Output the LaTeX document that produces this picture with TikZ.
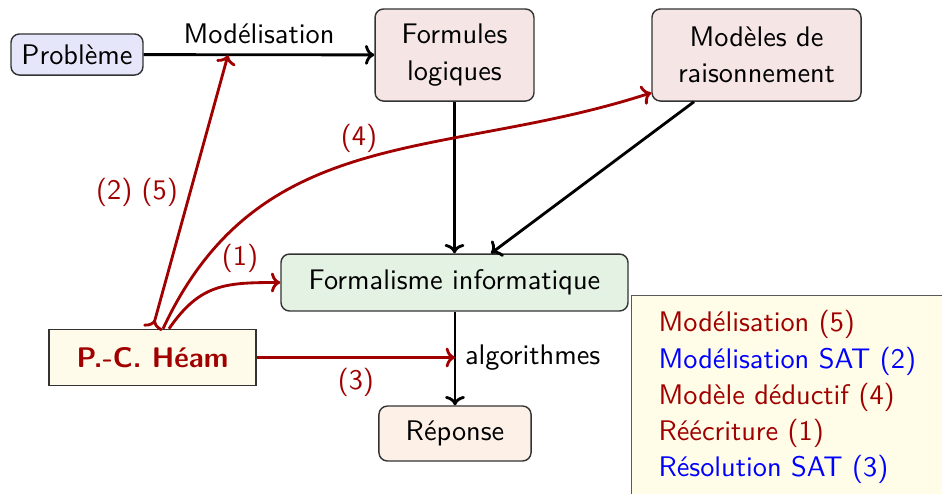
\documentclass[tikz,border=0pt]{standalone}
\usepackage{fontspec}
\renewcommand{\familydefault}{\sfdefault}
\usetikzlibrary{arrows.meta,calc}
\definecolor{hred}{HTML}{A00000}
\definecolor{hblue}{HTML}{0000FF}
\definecolor{cprob}{HTML}{E6E6FA}
\definecolor{cform}{HTML}{F5E5E5}
\definecolor{cinfo}{HTML}{E4F2E4}
\definecolor{crep}{HTML}{FDF0E6}
\definecolor{cheam}{HTML}{FFFBEA}
\definecolor{cleg}{HTML}{FFFDE8}
\definecolor{cborder}{HTML}{333333}
\begin{document}
\begin{tikzpicture}[x=0.353pt,y=-0.353pt,
  font=\fontsize{10}{12.8}\selectfont,
  box/.style={draw=cborder, line width=0.5pt, rounded corners=3pt, inner sep=0pt, align=center},
  tipa/.tip={To[length=3.3pt,width=7pt]},
  arr/.style={-tipa, line width=1pt},
  rarr/.style={arr, draw=hred},
  rlab/.style={text=hred}]
\useasboundingbox (0,0) rectangle (942,493);
\clip (0,0) rectangle (942,493);

% nodes
\node[box, fill=cprob, minimum width=46.6pt, minimum height=14.5pt] (prob) at (77,54.5) {Problème};
\node[box, fill=cform, minimum width=56.1pt, minimum height=32.5pt] (formules) at (454.5,55) {Formules\\logiques};
\node[box, fill=cform, minimum width=73.8pt, minimum height=32.5pt] (modeles) at (756.5,55) {Modèles de\\raisonnement};
\node[box, fill=cinfo, minimum width=122.5pt, minimum height=20.1pt] (formal) at (454.5,282.5) {Formalisme informatique};
\node[box, fill=cheam, rounded corners=0pt, minimum width=73.1pt, minimum height=19.8pt, text=hred, font=\fontsize{10}{12.8}\selectfont\bfseries] (heam) at (152.5,357.5) {P.-C. Héam};
\node[box, fill=crep, minimum width=53.7pt, minimum height=19.4pt] (rep) at (455,433.5) {Réponse};

% legend
\node[draw=gray!70!black, line width=0.5pt, fill=cleg, anchor=north west, minimum width=130pt, minimum height=80pt, inner sep=0pt] (legbox) at (631,295) {};
\node[anchor=north west, inner sep=0pt, align=left] (legtext) at (658,310)
  {\textcolor{hred}{Modélisation (5)}\\
   \textcolor{hblue}{Modélisation SAT (2)}\\
   \textcolor{hred}{Modèle déductif (4)}\\
   \textcolor{hred}{Réécriture (1)}\\
   \textcolor{hblue}{Résolution SAT (3)}};

% coordinates
\coordinate (modpt) at (228,55);
\coordinate (algo) at (rep.north |- heam);

% black connectors
\draw[arr] (prob) -- node[above] (modlab) {Modélisation} (formules);
\draw[arr] (formules.south) -- (formules.south |- formal.north);
\draw[arr] ($(modeles.south)+(-62.5,0)$) -- ($(formal.north)+(36.5,0)$);
\draw[arr] (formal.south -| rep.north) -- (rep.north);
\node[anchor=west] (alglab) at (algo) {algorithmes};

% red connectors
\draw[rarr] (heam) -- node[below, rlab] (lab3) {(3)} (algo);
\draw[rarr, {To[reversed,length=3.3pt,width=7pt]}-tipa] (heam.north) -- (modpt);
\draw[rarr] ($(heam.north)+(16.5,0)$) .. controls +(31,-45) and +(-55,0) .. (formal.west);
\draw[rarr] ($(heam.north)+(10.5,0)$) .. controls +(97,-208) and +(-209,68) .. ($(modeles.south west)+(0,-9)$);

% red labels
\node[rlab] (lab25) at (137,192) {(2) (5)};
\node[rlab] (lab1) at (240,258) {(1)};
\node[rlab] (lab4) at (359,138) {(4)};
\end{tikzpicture}
\end{document}
